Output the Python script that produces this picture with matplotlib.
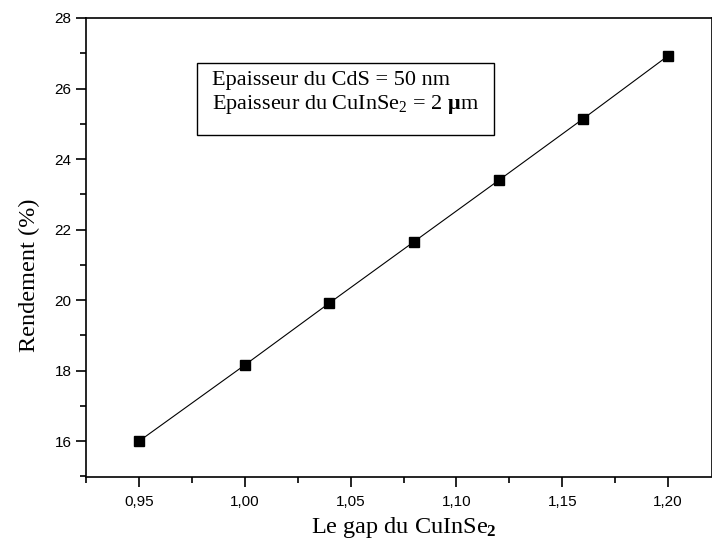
import matplotlib
matplotlib.use("Agg")
import matplotlib.pyplot as plt
from matplotlib.ticker import MultipleLocator, FuncFormatter
from matplotlib.patches import Rectangle

gap = [0.95, 1.00, 1.04, 1.08, 1.12, 1.16, 1.20]
rendement = [16.00, 18.16, 19.92, 21.66, 23.40, 25.15, 26.93]

plt.rcParams['mathtext.fontset'] = 'custom'
plt.rcParams['mathtext.rm'] = 'Liberation Serif'
plt.rcParams['mathtext.it'] = 'Liberation Serif:italic'
plt.rcParams['mathtext.bf'] = 'Liberation Serif:bold'

W, H = 712, 549
fig = plt.figure(figsize=(W / 100, H / 100), dpi=100)
ax = fig.add_axes([86 / W, 1 - 476.5 / H, 1 - 86 / W, (476.5 - 18) / H])

ax.plot(gap, rendement, color='black', lw=0.8, marker='s', ms=6.5,
        markerfacecolor='black', markeredgecolor='black')

ax.set_xlim(0.925, 1.2207)
ax.set_ylim(15, 28)

ax.xaxis.set_major_locator(MultipleLocator(0.05))
ax.xaxis.set_minor_locator(MultipleLocator(0.025))
ax.yaxis.set_major_locator(MultipleLocator(2))
ax.yaxis.set_minor_locator(MultipleLocator(1))
ax.xaxis.set_major_formatter(FuncFormatter(lambda v, p: f"{v:.2f}".replace('.', ',')))
ax.yaxis.set_major_formatter(FuncFormatter(lambda v, p: f"{v:.0f}"))

for sp in ax.spines.values():
    sp.set_linewidth(1.2)
ax.tick_params(which='major', direction='out', length=7, width=1.2,
               labelsize=11)
ax.tick_params(axis='x', which='major', pad=6)
ax.tick_params(axis='y', which='major', pad=3.5)
ax.tick_params(which='minor', direction='out', length=4, width=1.2)
ax.tick_params(top=False, right=False, which='both')
for lab in ax.get_xticklabels() + ax.get_yticklabels():
    lab.set_family('Liberation Sans')

ax.set_xlabel(r'Le gap du CuInSe$_\mathbf{2}$', family='Liberation Serif',
              fontsize=17.5, labelpad=5)
ax.set_ylabel('Rendement (%)', family='Liberation Serif', fontsize=17.5,
              labelpad=10)
ax.xaxis.label.set_x(0.508)
ax.yaxis.label.set_y(0.44)

txt = fig.text(212 / W, 1 - 71 / H, 'Epaisseur du CdS = 50 nm\n' +
               r'Epaisseur du CuInSe$_2$ = 2 $\mathbf{\mu}$m',
               family='Liberation Serif', fontsize=16,
               va='top', ha='left', linespacing=1.2, zorder=5)

fig.canvas.draw()
bb = txt.get_window_extent()
x0, x1 = 197, bb.x1 + 15
y_top, y_bot = H - 63, H - 135
fig.patches.append(Rectangle((x0 / W, y_bot / H), (x1 - x0) / W,
                             (y_top - y_bot) / H, transform=fig.transFigure,
                             facecolor='white', edgecolor='black',
                             linewidth=1.0, zorder=4))

fig.savefig('out.png', dpi=100)
